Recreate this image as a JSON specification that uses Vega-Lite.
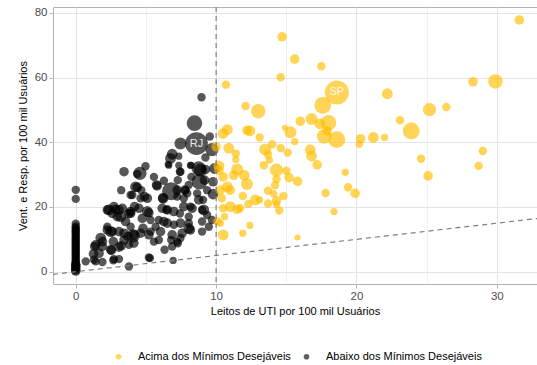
{
  "$schema": "https://vega.github.io/schema/vega-lite/v6.json",
  "width": 484,
  "height": 277,
  "autosize": {"type": "none"},
  "padding": {"left": 53, "top": 7, "right": 0, "bottom": 81},
  "config": {
    "font": "Liberation Sans",
    "view": {"stroke": "#B3B3B3", "strokeWidth": 1},
    "axis": {
      "domain": false,
      "gridColor": "#E3E3E3",
      "tickColor": "#B3B3B3",
      "tickSize": 4,
      "labelColor": "#4D4D4D",
      "labelFontSize": 11.5,
      "labelPadding": 2,
      "titleFontSize": 11,
      "titleFontWeight": "normal",
      "titleColor": "#000000"
    }
  },
  "datasets": {
    "limiar": [{"leitos": 10}],
    "ref": [{"leitos": -1.62, "vent": -0.81}, {"leitos": 32.86, "vent": 16.43}],
    "pts": [
      {"leitos":0,"vent":0.2,"pop":1600,"grupo":"Abaixo"},
      {"leitos":0,"vent":0.6,"pop":1600,"grupo":"Abaixo"},
      {"leitos":0,"vent":1.2,"pop":1600,"grupo":"Abaixo"},
      {"leitos":0,"vent":1.8,"pop":1600,"grupo":"Abaixo"},
      {"leitos":0,"vent":2.2,"pop":1600,"grupo":"Abaixo"},
      {"leitos":0,"vent":2.6,"pop":1225,"grupo":"Abaixo"},
      {"leitos":0,"vent":3.0,"pop":1225,"grupo":"Abaixo"},
      {"leitos":0,"vent":3.5,"pop":1225,"grupo":"Abaixo"},
      {"leitos":0,"vent":4.0,"pop":1225,"grupo":"Abaixo"},
      {"leitos":0,"vent":4.5,"pop":1225,"grupo":"Abaixo"},
      {"leitos":0,"vent":5.0,"pop":1225,"grupo":"Abaixo"},
      {"leitos":0,"vent":5.5,"pop":1225,"grupo":"Abaixo"},
      {"leitos":0,"vent":6.0,"pop":1225,"grupo":"Abaixo"},
      {"leitos":0,"vent":6.5,"pop":1225,"grupo":"Abaixo"},
      {"leitos":0,"vent":7.0,"pop":1225,"grupo":"Abaixo"},
      {"leitos":0,"vent":7.5,"pop":1225,"grupo":"Abaixo"},
      {"leitos":0,"vent":8.0,"pop":1225,"grupo":"Abaixo"},
      {"leitos":0,"vent":8.5,"pop":1225,"grupo":"Abaixo"},
      {"leitos":0,"vent":9.0,"pop":1225,"grupo":"Abaixo"},
      {"leitos":0,"vent":9.5,"pop":1225,"grupo":"Abaixo"},
      {"leitos":0,"vent":10.0,"pop":1225,"grupo":"Abaixo"},
      {"leitos":0,"vent":10.5,"pop":1225,"grupo":"Abaixo"},
      {"leitos":0,"vent":11.0,"pop":1225,"grupo":"Abaixo"},
      {"leitos":0,"vent":11.5,"pop":1225,"grupo":"Abaixo"},
      {"leitos":0,"vent":12.0,"pop":1225,"grupo":"Abaixo"},
      {"leitos":0,"vent":12.5,"pop":1225,"grupo":"Abaixo"},
      {"leitos":0,"vent":13.0,"pop":1225,"grupo":"Abaixo"},
      {"leitos":0,"vent":13.5,"pop":1225,"grupo":"Abaixo"},
      {"leitos":0,"vent":14.0,"pop":1225,"grupo":"Abaixo"},
      {"leitos":0,"vent":14.8,"pop":1225,"grupo":"Abaixo"},
      {"leitos":0,"vent":22.5,"pop":1225,"grupo":"Abaixo"},
      {"leitos":0,"vent":25.3,"pop":1225,"grupo":"Abaixo"},
      {"leitos":8.96,"vent":53.9,"pop":1225,"grupo":"Abaixo"},
      {"leitos":8.46,"vent":45.9,"pop":4225,"grupo":"Abaixo"},
      {"leitos":8.6,"vent":39.6,"pop":9025,"grupo":"Abaixo","uf":"RJ"},
      {"leitos":7.46,"vent":39.6,"pop":2500,"grupo":"Abaixo"},
      {"leitos":9.55,"vent":41.8,"pop":1225,"grupo":"Abaixo"},
      {"leitos":9.7,"vent":37.7,"pop":3025,"grupo":"Abaixo"},
      {"leitos":6.87,"vent":36.3,"pop":2025,"grupo":"Abaixo"},
      {"leitos":6.75,"vent":35.0,"pop":2025,"grupo":"Abaixo"},
      {"leitos":6.63,"vent":32.9,"pop":900,"grupo":"Abaixo"},
      {"leitos":7.34,"vent":32.9,"pop":900,"grupo":"Abaixo"},
      {"leitos":7.34,"vent":35.7,"pop":900,"grupo":"Abaixo"},
      {"leitos":9.24,"vent":35.3,"pop":1225,"grupo":"Abaixo"},
      {"leitos":8.88,"vent":31.4,"pop":3025,"grupo":"Abaixo"},
      {"leitos":8.81,"vent":27.8,"pop":4225,"grupo":"Abaixo"},
      {"leitos":9.17,"vent":28.3,"pop":1600,"grupo":"Abaixo"},
      {"leitos":9.88,"vent":31.9,"pop":2025,"grupo":"Abaixo"},
      {"leitos":9.78,"vent":27.8,"pop":1600,"grupo":"Abaixo"},
      {"leitos":9.78,"vent":24.0,"pop":2025,"grupo":"Abaixo"},
      {"leitos":8.17,"vent":32.9,"pop":900,"grupo":"Abaixo"},
      {"leitos":8.24,"vent":29.3,"pop":1225,"grupo":"Abaixo"},
      {"leitos":7.77,"vent":25.2,"pop":1600,"grupo":"Abaixo"},
      {"leitos":7.23,"vent":25.2,"pop":1600,"grupo":"Abaixo"},
      {"leitos":6.8,"vent":24.9,"pop":5625,"grupo":"Abaixo"},
      {"leitos":7.94,"vent":24.2,"pop":1225,"grupo":"Abaixo"},
      {"leitos":8.65,"vent":24.2,"pop":1225,"grupo":"Abaixo"},
      {"leitos":9.07,"vent":22.2,"pop":1225,"grupo":"Abaixo"},
      {"leitos":7.27,"vent":28.3,"pop":1225,"grupo":"Abaixo"},
      {"leitos":5.8,"vent":26.5,"pop":1600,"grupo":"Abaixo"},
      {"leitos":6.2,"vent":22.7,"pop":1600,"grupo":"Abaixo"},
      {"leitos":4.97,"vent":32.6,"pop":1225,"grupo":"Abaixo"},
      {"leitos":4.57,"vent":30.4,"pop":3025,"grupo":"Abaixo"},
      {"leitos":4.38,"vent":26.1,"pop":1600,"grupo":"Abaixo"},
      {"leitos":3.44,"vent":30.9,"pop":1600,"grupo":"Abaixo"},
      {"leitos":3.24,"vent":25.2,"pop":1225,"grupo":"Abaixo"},
      {"leitos":5.1,"vent":22.7,"pop":1600,"grupo":"Abaixo"},
      {"leitos":4.62,"vent":22.7,"pop":1225,"grupo":"Abaixo"},
      {"leitos":3.91,"vent":23.7,"pop":1225,"grupo":"Abaixo"},
      {"leitos":2.37,"vent":19.1,"pop":2025,"grupo":"Abaixo"},
      {"leitos":2.84,"vent":19.3,"pop":1600,"grupo":"Abaixo"},
      {"leitos":3.32,"vent":19.6,"pop":1600,"grupo":"Abaixo"},
      {"leitos":3.2,"vent":17.0,"pop":2025,"grupo":"Abaixo"},
      {"leitos":3.79,"vent":18.0,"pop":1600,"grupo":"Abaixo"},
      {"leitos":4.5,"vent":19.6,"pop":1600,"grupo":"Abaixo"},
      {"leitos":5.1,"vent":18.6,"pop":2025,"grupo":"Abaixo"},
      {"leitos":4.74,"vent":16.5,"pop":1600,"grupo":"Abaixo"},
      {"leitos":5.33,"vent":16.0,"pop":1225,"grupo":"Abaixo"},
      {"leitos":5.92,"vent":16.0,"pop":1225,"grupo":"Abaixo"},
      {"leitos":6.16,"vent":19.6,"pop":1600,"grupo":"Abaixo"},
      {"leitos":6.52,"vent":19.1,"pop":1600,"grupo":"Abaixo"},
      {"leitos":6.99,"vent":18.6,"pop":1600,"grupo":"Abaixo"},
      {"leitos":7.7,"vent":20.1,"pop":1600,"grupo":"Abaixo"},
      {"leitos":8.29,"vent":19.6,"pop":1600,"grupo":"Abaixo"},
      {"leitos":9.12,"vent":19.1,"pop":2025,"grupo":"Abaixo"},
      {"leitos":8.05,"vent":17.0,"pop":1225,"grupo":"Abaixo"},
      {"leitos":7.46,"vent":15.0,"pop":1600,"grupo":"Abaixo"},
      {"leitos":8.05,"vent":13.4,"pop":2025,"grupo":"Abaixo"},
      {"leitos":7.58,"vent":11.9,"pop":1600,"grupo":"Abaixo"},
      {"leitos":6.87,"vent":11.4,"pop":1600,"grupo":"Abaixo"},
      {"leitos":6.52,"vent":15.0,"pop":1600,"grupo":"Abaixo"},
      {"leitos":5.69,"vent":13.9,"pop":1225,"grupo":"Abaixo"},
      {"leitos":5.21,"vent":11.4,"pop":1600,"grupo":"Abaixo"},
      {"leitos":5.92,"vent":9.8,"pop":1225,"grupo":"Abaixo"},
      {"leitos":6.33,"vent":6.8,"pop":1225,"grupo":"Abaixo"},
      {"leitos":6.8,"vent":9.8,"pop":1225,"grupo":"Abaixo"},
      {"leitos":7.27,"vent":8.8,"pop":1225,"grupo":"Abaixo"},
      {"leitos":4.62,"vent":11.9,"pop":1600,"grupo":"Abaixo"},
      {"leitos":4.1,"vent":11.1,"pop":3025,"grupo":"Abaixo"},
      {"leitos":3.72,"vent":10.9,"pop":1600,"grupo":"Abaixo"},
      {"leitos":3.44,"vent":9.8,"pop":1600,"grupo":"Abaixo"},
      {"leitos":3.79,"vent":8.3,"pop":1225,"grupo":"Abaixo"},
      {"leitos":3.24,"vent":8.0,"pop":1600,"grupo":"Abaixo"},
      {"leitos":2.68,"vent":9.3,"pop":1600,"grupo":"Abaixo"},
      {"leitos":2.54,"vent":6.6,"pop":1600,"grupo":"Abaixo"},
      {"leitos":1.78,"vent":10.4,"pop":2025,"grupo":"Abaixo"},
      {"leitos":1.35,"vent":7.8,"pop":1600,"grupo":"Abaixo"},
      {"leitos":1.9,"vent":7.8,"pop":1600,"grupo":"Abaixo"},
      {"leitos":1.66,"vent":5.7,"pop":1600,"grupo":"Abaixo"},
      {"leitos":1.26,"vent":5.5,"pop":1600,"grupo":"Abaixo"},
      {"leitos":0.71,"vent":3.2,"pop":1225,"grupo":"Abaixo"},
      {"leitos":1.42,"vent":3.2,"pop":1225,"grupo":"Abaixo"},
      {"leitos":1.9,"vent":3.0,"pop":1225,"grupo":"Abaixo"},
      {"leitos":2.68,"vent":3.5,"pop":1225,"grupo":"Abaixo"},
      {"leitos":3.08,"vent":3.9,"pop":1225,"grupo":"Abaixo"},
      {"leitos":3.79,"vent":1.6,"pop":1225,"grupo":"Abaixo"},
      {"leitos":5.21,"vent":4.4,"pop":1225,"grupo":"Abaixo"},
      {"leitos":6.94,"vent":3.5,"pop":900,"grupo":"Abaixo"},
      {"leitos":4.79,"vent":13.4,"pop":1600,"grupo":"Abaixo"},
      {"leitos":3.08,"vent":12.4,"pop":1600,"grupo":"Abaixo"},
      {"leitos":2.49,"vent":12.4,"pop":2025,"grupo":"Abaixo"},
      {"leitos":2.25,"vent":13.9,"pop":1225,"grupo":"Abaixo"},
      {"leitos":3.91,"vent":13.9,"pop":1225,"grupo":"Abaixo"},
      {"leitos":9.36,"vent":25.2,"pop":1225,"grupo":"Abaixo"},
      {"leitos":9.0,"vent":15.5,"pop":1225,"grupo":"Abaixo"},
      {"leitos":9.48,"vent":13.9,"pop":1225,"grupo":"Abaixo"},
      {"leitos":9.36,"vent":17.5,"pop":1225,"grupo":"Abaixo"},
      {"leitos":9.7,"vent":16.0,"pop":1225,"grupo":"Abaixo"},
      {"leitos":5.57,"vent":29.3,"pop":1225,"grupo":"Abaixo"},
      {"leitos":4.67,"vent":25.2,"pop":1225,"grupo":"Abaixo"},
      {"leitos":7.46,"vent":30.9,"pop":1225,"grupo":"Abaixo"},
      {"leitos":4.26,"vent":26.2,"pop":2025,"grupo":"Abaixo"},
      {"leitos":5.76,"vent":26.8,"pop":1600,"grupo":"Abaixo"},
      {"leitos":6.28,"vent":28.1,"pop":1225,"grupo":"Abaixo"},
      {"leitos":7.82,"vent":25.2,"pop":1225,"grupo":"Abaixo"},
      {"leitos":8.05,"vent":26.8,"pop":1225,"grupo":"Abaixo"},
      {"leitos":4.9,"vent":23.2,"pop":1600,"grupo":"Abaixo"},
      {"leitos":6.23,"vent":22.7,"pop":2025,"grupo":"Abaixo"},
      {"leitos":7.23,"vent":23.2,"pop":1225,"grupo":"Abaixo"},
      {"leitos":7.7,"vent":22.7,"pop":1225,"grupo":"Abaixo"},
      {"leitos":8.76,"vent":22.2,"pop":1600,"grupo":"Abaixo"},
      {"leitos":4.19,"vent":20.1,"pop":1600,"grupo":"Abaixo"},
      {"leitos":3.91,"vent":18.6,"pop":1600,"grupo":"Abaixo"},
      {"leitos":5.21,"vent":18.2,"pop":1600,"grupo":"Abaixo"},
      {"leitos":6.47,"vent":19.1,"pop":1225,"grupo":"Abaixo"},
      {"leitos":7.42,"vent":18.0,"pop":1225,"grupo":"Abaixo"},
      {"leitos":8.17,"vent":20.1,"pop":1225,"grupo":"Abaixo"},
      {"leitos":9.0,"vent":19.1,"pop":1225,"grupo":"Abaixo"},
      {"leitos":6.28,"vent":15.5,"pop":1600,"grupo":"Abaixo"},
      {"leitos":6.99,"vent":14.5,"pop":1225,"grupo":"Abaixo"},
      {"leitos":8.05,"vent":15.0,"pop":1225,"grupo":"Abaixo"},
      {"leitos":8.17,"vent":12.9,"pop":1600,"grupo":"Abaixo"},
      {"leitos":9.0,"vent":12.4,"pop":1225,"grupo":"Abaixo"},
      {"leitos":5.33,"vent":12.4,"pop":1225,"grupo":"Abaixo"},
      {"leitos":6.04,"vent":12.4,"pop":1600,"grupo":"Abaixo"},
      {"leitos":4.14,"vent":11.4,"pop":1600,"grupo":"Abaixo"},
      {"leitos":5.57,"vent":9.3,"pop":1225,"grupo":"Abaixo"},
      {"leitos":6.87,"vent":7.8,"pop":1225,"grupo":"Abaixo"},
      {"leitos":7.23,"vent":9.3,"pop":1225,"grupo":"Abaixo"},
      {"leitos":7.46,"vent":10.4,"pop":1225,"grupo":"Abaixo"},
      {"leitos":5.28,"vent":4.2,"pop":1225,"grupo":"Abaixo"},
      {"leitos":4.38,"vent":30.2,"pop":1225,"grupo":"Abaixo"},
      {"leitos":4.03,"vent":23.7,"pop":1225,"grupo":"Abaixo"},
      {"leitos":2.25,"vent":19.1,"pop":1600,"grupo":"Abaixo"},
      {"leitos":2.72,"vent":20.1,"pop":1600,"grupo":"Abaixo"},
      {"leitos":3.08,"vent":19.1,"pop":1600,"grupo":"Abaixo"},
      {"leitos":2.6,"vent":18.0,"pop":1600,"grupo":"Abaixo"},
      {"leitos":2.96,"vent":17.0,"pop":1600,"grupo":"Abaixo"},
      {"leitos":3.55,"vent":15.5,"pop":1600,"grupo":"Abaixo"},
      {"leitos":3.91,"vent":18.0,"pop":1600,"grupo":"Abaixo"},
      {"leitos":2.25,"vent":12.9,"pop":1600,"grupo":"Abaixo"},
      {"leitos":2.6,"vent":12.4,"pop":1600,"grupo":"Abaixo"},
      {"leitos":3.44,"vent":11.9,"pop":1600,"grupo":"Abaixo"},
      {"leitos":1.42,"vent":8.3,"pop":1600,"grupo":"Abaixo"},
      {"leitos":1.9,"vent":9.3,"pop":1600,"grupo":"Abaixo"},
      {"leitos":2.49,"vent":6.8,"pop":1600,"grupo":"Abaixo"},
      {"leitos":3.08,"vent":7.6,"pop":1600,"grupo":"Abaixo"},
      {"leitos":4.14,"vent":8.8,"pop":1600,"grupo":"Abaixo"},
      {"leitos":1.3,"vent":3.7,"pop":1225,"grupo":"Abaixo"},
      {"leitos":2.72,"vent":3.9,"pop":1225,"grupo":"Abaixo"},
      {"leitos":6.59,"vent":33.2,"pop":900,"grupo":"Abaixo"},
      {"leitos":7.42,"vent":30.9,"pop":1225,"grupo":"Abaixo"},
      {"leitos":8.22,"vent":32.9,"pop":900,"grupo":"Abaixo"},
      {"leitos":8.76,"vent":31.9,"pop":3600,"grupo":"Abaixo"},
      {"leitos":9.24,"vent":31.6,"pop":1600,"grupo":"Abaixo"},
      {"leitos":31.6,"vent":77.8,"pop":1600,"grupo":"Acima"},
      {"leitos":14.7,"vent":72.6,"pop":1600,"grupo":"Acima"},
      {"leitos":15.6,"vent":65.7,"pop":1600,"grupo":"Acima"},
      {"leitos":17.5,"vent":63.5,"pop":1225,"grupo":"Acima"},
      {"leitos":14.6,"vent":60.1,"pop":1225,"grupo":"Acima"},
      {"leitos":18.6,"vent":55.4,"pop":10000,"grupo":"Acima","uf":"SP"},
      {"leitos":17.6,"vent":51.4,"pop":4900,"grupo":"Acima"},
      {"leitos":22.2,"vent":55.0,"pop":2025,"grupo":"Acima"},
      {"leitos":28.3,"vent":58.7,"pop":1600,"grupo":"Acima"},
      {"leitos":29.9,"vent":58.8,"pop":3600,"grupo":"Acima"},
      {"leitos":25.2,"vent":50.1,"pop":3025,"grupo":"Acima"},
      {"leitos":26.4,"vent":50.9,"pop":1225,"grupo":"Acima"},
      {"leitos":13.0,"vent":49.6,"pop":3600,"grupo":"Acima"},
      {"leitos":16.0,"vent":46.5,"pop":1600,"grupo":"Acima"},
      {"leitos":16.8,"vent":47.2,"pop":2500,"grupo":"Acima"},
      {"leitos":17.4,"vent":45.7,"pop":2025,"grupo":"Acima"},
      {"leitos":18.0,"vent":46.0,"pop":4225,"grupo":"Acima"},
      {"leitos":17.9,"vent":43.5,"pop":1600,"grupo":"Acima"},
      {"leitos":17.7,"vent":41.8,"pop":3600,"grupo":"Acima"},
      {"leitos":18.6,"vent":40.8,"pop":4900,"grupo":"Acima"},
      {"leitos":15.3,"vent":43.1,"pop":2500,"grupo":"Acima"},
      {"leitos":14.9,"vent":44.5,"pop":625,"grupo":"Acima"},
      {"leitos":15.6,"vent":40.2,"pop":900,"grupo":"Acima"},
      {"leitos":23.1,"vent":46.8,"pop":1225,"grupo":"Acima"},
      {"leitos":23.9,"vent":43.5,"pop":4900,"grupo":"Acima"},
      {"leitos":21.2,"vent":41.5,"pop":2025,"grupo":"Acima"},
      {"leitos":22.0,"vent":41.5,"pop":900,"grupo":"Acima"},
      {"leitos":20.3,"vent":41.1,"pop":1600,"grupo":"Acima"},
      {"leitos":20.2,"vent":39.4,"pop":900,"grupo":"Acima"},
      {"leitos":16.7,"vent":37.7,"pop":2025,"grupo":"Acima"},
      {"leitos":16.8,"vent":35.7,"pop":2025,"grupo":"Acima"},
      {"leitos":17.2,"vent":33.0,"pop":1600,"grupo":"Acima"},
      {"leitos":14.0,"vent":39.4,"pop":1225,"grupo":"Acima"},
      {"leitos":14.6,"vent":38.2,"pop":1225,"grupo":"Acima"},
      {"leitos":15.1,"vent":36.8,"pop":1225,"grupo":"Acima"},
      {"leitos":13.5,"vent":37.8,"pop":2500,"grupo":"Acima"},
      {"leitos":13.7,"vent":36.2,"pop":1225,"grupo":"Acima"},
      {"leitos":13.8,"vent":34.5,"pop":900,"grupo":"Acima"},
      {"leitos":13.4,"vent":32.9,"pop":1225,"grupo":"Acima"},
      {"leitos":13.1,"vent":41.5,"pop":1225,"grupo":"Acima"},
      {"leitos":14.3,"vent":31.4,"pop":3025,"grupo":"Acima"},
      {"leitos":15.0,"vent":31.2,"pop":1225,"grupo":"Acima"},
      {"leitos":15.2,"vent":29.1,"pop":1600,"grupo":"Acima"},
      {"leitos":15.8,"vent":27.9,"pop":1600,"grupo":"Acima"},
      {"leitos":14.3,"vent":28.6,"pop":1225,"grupo":"Acima"},
      {"leitos":14.2,"vent":26.7,"pop":1225,"grupo":"Acima"},
      {"leitos":14.1,"vent":24.1,"pop":900,"grupo":"Acima"},
      {"leitos":13.7,"vent":25.0,"pop":1225,"grupo":"Acima"},
      {"leitos":14.8,"vent":23.4,"pop":1225,"grupo":"Acima"},
      {"leitos":14.3,"vent":21.9,"pop":1600,"grupo":"Acima"},
      {"leitos":14.3,"vent":20.8,"pop":900,"grupo":"Acima"},
      {"leitos":13.7,"vent":21.1,"pop":1225,"grupo":"Acima"},
      {"leitos":14.5,"vent":18.9,"pop":1225,"grupo":"Acima"},
      {"leitos":13.1,"vent":22.2,"pop":900,"grupo":"Acima"},
      {"leitos":17.8,"vent":24.3,"pop":1225,"grupo":"Acima"},
      {"leitos":18.4,"vent":18.6,"pop":900,"grupo":"Acima"},
      {"leitos":19.2,"vent":30.7,"pop":900,"grupo":"Acima"},
      {"leitos":19.4,"vent":26.1,"pop":1225,"grupo":"Acima"},
      {"leitos":19.9,"vent":24.2,"pop":1600,"grupo":"Acima"},
      {"leitos":15.8,"vent":10.6,"pop":625,"grupo":"Acima"},
      {"leitos":24.6,"vent":34.9,"pop":1225,"grupo":"Acima"},
      {"leitos":25.1,"vent":29.6,"pop":1600,"grupo":"Acima"},
      {"leitos":29.0,"vent":37.3,"pop":1225,"grupo":"Acima"},
      {"leitos":28.7,"vent":32.7,"pop":1225,"grupo":"Acima"},
      {"leitos":10.7,"vent":57.8,"pop":1225,"grupo":"Acima"},
      {"leitos":12.1,"vent":51.2,"pop":1225,"grupo":"Acima"},
      {"leitos":10.5,"vent":42.7,"pop":2025,"grupo":"Acima"},
      {"leitos":10.8,"vent":43.9,"pop":2025,"grupo":"Acima"},
      {"leitos":12.2,"vent":43.7,"pop":1600,"grupo":"Acima"},
      {"leitos":12.4,"vent":43.5,"pop":2025,"grupo":"Acima"},
      {"leitos":10.0,"vent":38.6,"pop":1600,"grupo":"Acima"},
      {"leitos":10.9,"vent":38.2,"pop":2025,"grupo":"Acima"},
      {"leitos":11.4,"vent":36.5,"pop":1225,"grupo":"Acima"},
      {"leitos":11.4,"vent":34.7,"pop":900,"grupo":"Acima"},
      {"leitos":11.5,"vent":31.6,"pop":2500,"grupo":"Acima"},
      {"leitos":12.0,"vent":29.8,"pop":2025,"grupo":"Acima"},
      {"leitos":12.2,"vent":27.1,"pop":2500,"grupo":"Acima"},
      {"leitos":11.25,"vent":29.8,"pop":1600,"grupo":"Acima"},
      {"leitos":10.5,"vent":29.3,"pop":1600,"grupo":"Acima"},
      {"leitos":10.2,"vent":31.4,"pop":1600,"grupo":"Acima"},
      {"leitos":10.8,"vent":26.2,"pop":2025,"grupo":"Acima"},
      {"leitos":11.0,"vent":25.2,"pop":1600,"grupo":"Acima"},
      {"leitos":10.3,"vent":25.2,"pop":1600,"grupo":"Acima"},
      {"leitos":10.4,"vent":22.7,"pop":1225,"grupo":"Acima"},
      {"leitos":11.9,"vent":23.4,"pop":1225,"grupo":"Acima"},
      {"leitos":12.8,"vent":22.2,"pop":2025,"grupo":"Acima"},
      {"leitos":12.3,"vent":20.9,"pop":1225,"grupo":"Acima"},
      {"leitos":11.0,"vent":20.1,"pop":2025,"grupo":"Acima"},
      {"leitos":11.5,"vent":19.3,"pop":1600,"grupo":"Acima"},
      {"leitos":11.7,"vent":19.6,"pop":1225,"grupo":"Acima"},
      {"leitos":10.5,"vent":19.6,"pop":1225,"grupo":"Acima"},
      {"leitos":10.6,"vent":17.0,"pop":900,"grupo":"Acima"},
      {"leitos":10.3,"vent":15.0,"pop":900,"grupo":"Acima"},
      {"leitos":12.4,"vent":14.3,"pop":900,"grupo":"Acima"},
      {"leitos":11.9,"vent":11.9,"pop":900,"grupo":"Acima"},
      {"leitos":10.5,"vent":11.4,"pop":2025,"grupo":"Acima"},
      {"leitos":10.2,"vent":32.7,"pop":2025,"grupo":"Acima"},
      {"leitos":10.1,"vent":15.5,"pop":1225,"grupo":"Acima"}
    ]
  },
  "layer": [
    {
      "data": {"name": "pts"},
      "mark": {"type": "circle", "opacity": 0.66},
      "encoding": {
        "x": {
          "field": "leitos", "type": "quantitative",
          "scale": {"domain": [-1.62, 32.86], "nice": false, "zero": false},
          "axis": {
            "title": "Leitos de UTI por 100 mil Usuários",
            "values": [0, 5, 10, 15, 20, 25, 30],
            "labelExpr": "datum.value % 10 === 0 ? datum.label : ''",
            "tickOpacity": {"condition": {"test": "datum.value % 10 !== 0", "value": 0}, "value": 1},
            "gridWidth": {"condition": {"test": "datum.value % 10 !== 0", "value": 0.5}, "value": 1},
            "titlePadding": 4
          }
        },
        "y": {
          "field": "vent", "type": "quantitative",
          "scale": {"domain": [-3.8, 81.8], "nice": false, "zero": false},
          "axis": {
            "title": "Vent. e Resp. por 100 mil Usuários",
            "values": [0, 10, 20, 30, 40, 50, 60, 70, 80],
            "labelExpr": "datum.value % 20 === 0 ? datum.label : ''",
            "tickOpacity": {"condition": {"test": "datum.value % 20 !== 0", "value": 0}, "value": 1},
            "gridWidth": {"condition": {"test": "datum.value % 20 !== 0", "value": 0.5}, "value": 1},
            "titlePadding": 6
          }
        },
        "size": {
          "field": "pop", "type": "quantitative",
          "scale": {"type": "linear", "domain": [0, 9025], "range": [0, 520]},
          "legend": null
        },
        "color": {
          "field": "grupo", "type": "nominal",
          "scale": {"domain": ["Acima", "Abaixo"], "range": ["#FFBE00", "#000000"]},
          "legend": {
            "title": null,
            "orient": "none",
            "direction": "horizontal",
            "legendX": 60,
            "legendY": 344,
            "symbolType": "circle",
            "symbolSize": 32,
            "symbolOpacity": 0.62,
            "labelFontSize": 11,
            "labelColor": "#000000",
            "labelOffset": 14,
            "columnPadding": 10,
            "labelExpr": "datum.label + ' dos Mínimos Desejáveis'"
          }
        }
      }
    },
    {
      "data": {"name": "pts"},
      "transform": [{"filter": "datum.uf"}],
      "mark": {"type": "text", "color": "#FFFFFF", "fontSize": 11, "opacity": 0.9},
      "encoding": {
        "x": {"field": "leitos", "type": "quantitative"},
        "y": {"field": "vent", "type": "quantitative"},
        "text": {"field": "uf", "type": "nominal"}
      }
    },
    {
      "data": {"name": "limiar"},
      "mark": {"type": "rule", "color": "#7F7F7F", "strokeDash": [5, 4], "strokeWidth": 1.2},
      "encoding": {
        "x": {"field": "leitos", "type": "quantitative"}
      }
    },
    {
      "data": {"name": "ref"},
      "mark": {"type": "line", "color": "#7F7F7F", "strokeDash": [5, 4], "strokeWidth": 1.2, "clip": true},
      "encoding": {
        "x": {"field": "leitos", "type": "quantitative"},
        "y": {"field": "vent", "type": "quantitative"}
      }
    }
  ]
}
